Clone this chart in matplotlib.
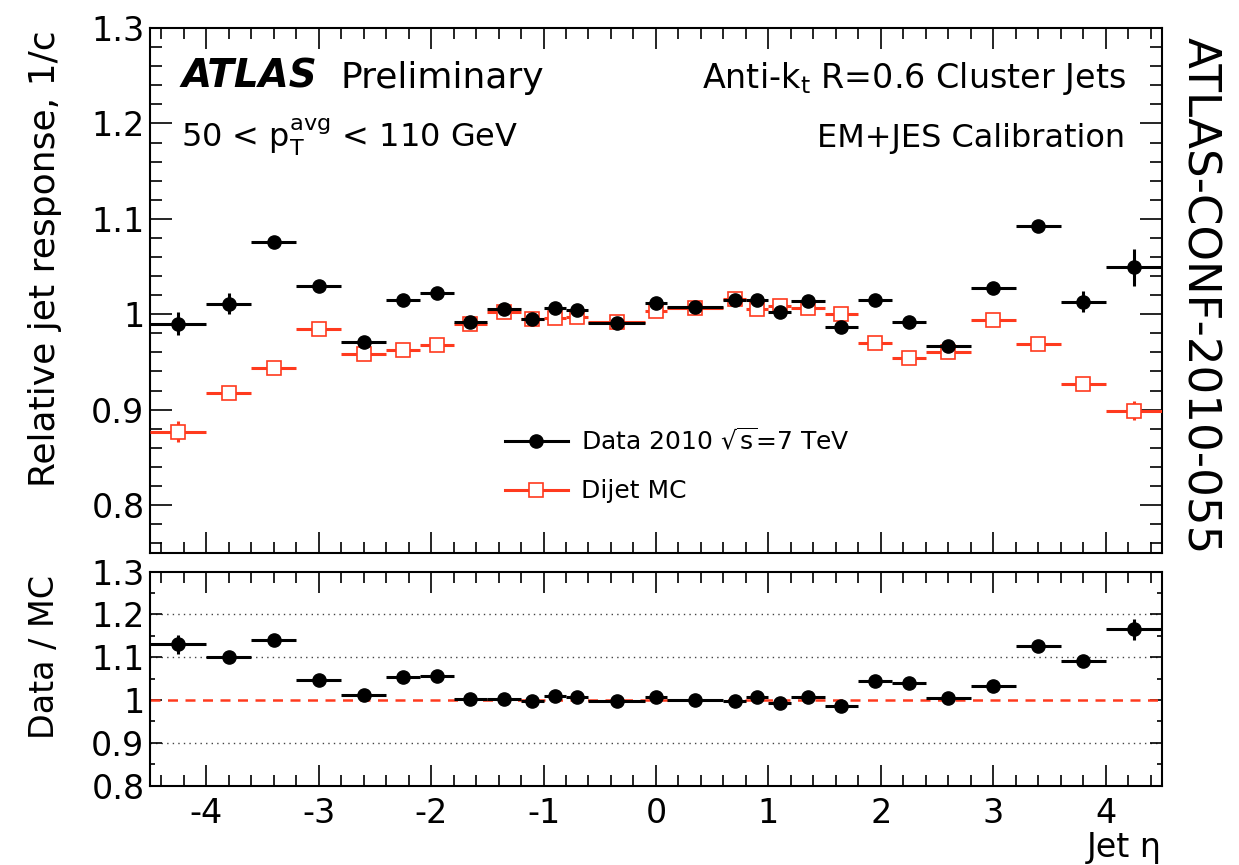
#!/usr/bin/env python3
"""
Relative jet response vs jet eta (ATLAS-CONF-2010-055 style figure)
"""

import matplotlib
matplotlib.use('Agg')
import matplotlib.pyplot as plt
from matplotlib.ticker import MultipleLocator
from matplotlib.lines import Line2D
import numpy as np

plt.rcParams.update({
    'font.family': 'DejaVu Sans',
    'font.size': 24,
    'axes.linewidth': 1.5,
    'xtick.direction': 'in',
    'ytick.direction': 'in',
    'xtick.top': True,
    'ytick.right': True,
})

# eta binning
eta_edges = [-4.5, -4.0, -3.6, -3.2, -2.8, -2.4, -2.1, -1.8, -1.5, -1.2, -1.0, -0.8,
             -0.6, -0.1, 0.1, 0.6, 0.8, 1.0, 1.2, 1.5, 1.8, 2.1, 2.4, 2.8, 3.2, 3.6,
             4.0, 4.5]

# Relative jet response, data
data_resp = [0.990, 1.011, 1.076, 1.030, 0.971, 1.015, 1.022, 0.992, 1.005, 0.995,
             1.007, 1.004, 0.991, 1.012, 1.008, 1.015, 1.015, 1.002, 1.014, 0.987,
             1.015, 0.992, 0.967, 1.027, 1.092, 1.013, 1.049]
data_err = [0.012, 0.011, 0.005, 0.004, 0.004, 0.004, 0.004, 0.003, 0.003, 0.003,
            0.003, 0.003, 0.003, 0.003, 0.003, 0.003, 0.003, 0.003, 0.003, 0.004,
            0.004, 0.004, 0.004, 0.004, 0.006, 0.011, 0.019]

# Relative jet response, dijet MC
mc_resp = [0.877, 0.917, 0.944, 0.985, 0.958, 0.9625, 0.968, 0.990, 1.002, 0.9955,
           0.996, 0.9966, 0.992, 1.0035, 1.007, 1.016, 1.006, 1.009, 1.007, 1.000,
           0.970, 0.9545, 0.960, 0.994, 0.969, 0.927, 0.899]
mc_err = [0.011, 0.005, 0.004, 0.003, 0.003, 0.003, 0.003, 0.002, 0.002, 0.002,
          0.002, 0.002, 0.002, 0.002, 0.002, 0.002, 0.002, 0.002, 0.002, 0.002,
          0.003, 0.003, 0.003, 0.003, 0.004, 0.005, 0.010]

# Data / MC
ratio = [1.130, 1.101, 1.140, 1.047, 1.012, 1.053, 1.056, 1.002, 1.003, 0.998,
         1.010, 1.008, 0.998, 1.008, 1.000, 0.998, 1.008, 0.994, 1.008, 0.986,
         1.045, 1.039, 1.006, 1.033, 1.127, 1.092, 1.165]
ratio_err = [0.022, 0.008, 0.008, 0.006, 0.006, 0.006, 0.006, 0.004, 0.004, 0.004,
             0.004, 0.004, 0.004, 0.004, 0.004, 0.004, 0.004, 0.004, 0.004, 0.005,
             0.006, 0.006, 0.006, 0.006, 0.008, 0.010, 0.025]

RED = '#FF3A1E'

edges = np.array(eta_edges)
eta = 0.5 * (edges[1:] + edges[:-1])
eta_hw = 0.5 * (edges[1:] - edges[:-1])

fig = plt.figure(figsize=(12.39, 8.65), dpi=100)
ax = fig.add_axes([0.1211, 0.3610, 0.8166, 0.6066])
axr = fig.add_axes([0.1211, 0.0917, 0.8166, 0.2474])

# ---- top panel
ax.errorbar(eta, mc_resp, xerr=eta_hw, yerr=mc_err, fmt='s', color=RED, ms=9.5,
            mfc='white', mec=RED, mew=1.2, elinewidth=2.2, capsize=0, zorder=3)
ax.errorbar(eta, data_resp, xerr=eta_hw, yerr=data_err, fmt='o', color='black',
            ms=9.5, elinewidth=2.2, capsize=0, zorder=4)

ax.set_xlim(-4.5, 4.5)
ax.set_ylim(0.75, 1.3)
ax.xaxis.set_major_locator(MultipleLocator(1))
ax.xaxis.set_minor_locator(MultipleLocator(0.2))
ax.yaxis.set_major_locator(MultipleLocator(0.1))
ax.yaxis.set_minor_locator(MultipleLocator(0.02))
ax.tick_params(axis='x', which='major', length=15, width=1.2, labelbottom=False)
ax.tick_params(axis='x', which='minor', length=8, width=1.2)
ax.tick_params(axis='y', which='major', length=16, width=1.2, pad=4)
ax.tick_params(axis='y', which='minor', length=8.5, width=1.2)
ax.set_yticks([0.8, 0.9, 1.0, 1.1, 1.2, 1.3])
ax.set_yticklabels(['0.8', '0.9', '1', '1.1', '1.2', '1.3'])

ax.text(0.031, 0.886, 'ATLAS', transform=ax.transAxes, fontsize=28,
        fontweight='bold', fontstyle='italic')
ax.text(0.188, 0.886, 'Preliminary', transform=ax.transAxes, fontsize=26)
ax.text(0.031, 0.773, r'50 < p$_\mathrm{T}^\mathrm{avg}$ < 110 GeV',
        transform=ax.transAxes, fontsize=23)
ax.text(0.964, 0.886, r'Anti-k$_\mathrm{t}$ R=0.6 Cluster Jets',
        transform=ax.transAxes, fontsize=24, ha='right')
ax.text(0.964, 0.773, 'EM+JES Calibration', transform=ax.transAxes,
        fontsize=23, ha='right')

leg_handles = [
    Line2D([], [], color='black', marker='o', ms=9.5, lw=2.2),
    Line2D([], [], color=RED, marker='s', ms=9.5, mfc='white', mec=RED,
           mew=1.2, lw=2.2),
]
ax.legend(leg_handles, [r'Data 2010 $\sqrt{\mathrm{s}}$=7 TeV', 'Dijet MC'],
          loc='center left', bbox_to_anchor=(0.351, 0.166), frameon=False,
          fontsize=18, handlelength=2.5, handletextpad=0.55, labelspacing=1.0,
          borderpad=0, borderaxespad=0)

# ---- ratio panel
for g in [0.9, 1.1, 1.2]:
    axr.axhline(g, color='#444444', linestyle=(0, (1, 3)), linewidth=1.0, zorder=1)
axr.axhline(1.0, color=RED, linestyle=(0, (4, 3)), linewidth=1.8, zorder=2)
axr.errorbar(eta, ratio, xerr=eta_hw, yerr=ratio_err, fmt='o', color='black',
             ms=9.5, elinewidth=2.2, capsize=0, zorder=4)

axr.set_xlim(-4.5, 4.5)
axr.set_ylim(0.8, 1.3)
axr.xaxis.set_major_locator(MultipleLocator(1))
axr.xaxis.set_minor_locator(MultipleLocator(0.2))
axr.yaxis.set_minor_locator(MultipleLocator(0.05))
axr.set_yticks([0.8, 0.9, 1.0, 1.1, 1.2, 1.3])
axr.set_yticklabels(['0.8', '0.9', '1', '1.1', '1.2', '1.3'])
axr.set_xticks([-4, -3, -2, -1, 0, 1, 2, 3, 4])
axr.set_xticklabels(['-4', '-3', '-2', '-1', '0', '1', '2', '3', '4'])
axr.tick_params(axis='x', which='major', length=15, width=1.2, pad=8)
axr.tick_params(axis='x', which='minor', length=8, width=1.2)
axr.tick_params(axis='y', which='major', length=8.5, width=1.2, pad=4)
axr.tick_params(axis='y', which='minor', length=3.5, width=1.2)
axr.text(1.0, -0.29, 'Jet η', transform=axr.transAxes, ha='right',
         va='center', fontsize=24)

# axis titles
fig.text(0.0363, 0.9653, 'Relative jet response, 1/c', rotation=90,
         ha='center', va='top', fontsize=26)
fig.text(0.0363, 0.335, 'Data / MC', rotation=90, ha='center', va='top',
         fontsize=24)
fig.text(0.968, 0.957, 'ATLAS-CONF-2010-055', rotation=-90, ha='center',
         va='top', fontsize=32.5)

fig.savefig('out.png', dpi=100)
plt.close(fig)
